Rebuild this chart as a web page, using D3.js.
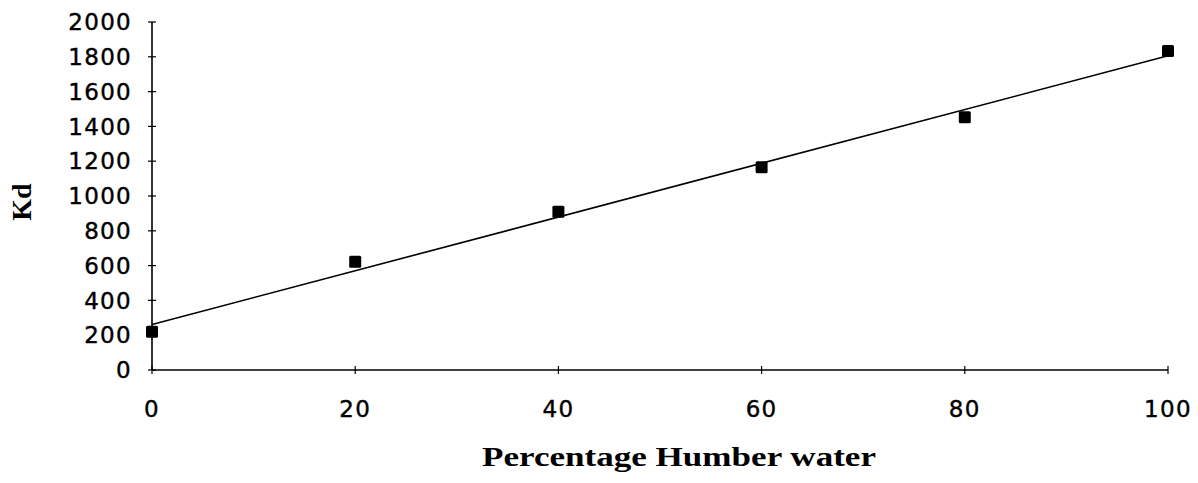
<!DOCTYPE html>
<html>
<head>
<meta charset="utf-8">
<script src="https://cdn.jsdelivr.net/npm/d3@7"></script>
<style>
  html, body { margin: 0; padding: 0; background: #fff; }
  #chart { width: 1198px; height: 483px; }
  .tick-label { font-family: "DejaVu Sans", sans-serif; font-size: 23px; letter-spacing: 1.3px; fill: #000; stroke: #000; stroke-width: 0.4px; }
  .axis-title { font-family: "Liberation Serif", "Times New Roman", serif; font-weight: bold; font-size: 28px; fill: #000; }
</style>
</head>
<body>
<div id="chart"></div>
<script>
// Kd against percentage of Humber water, with a least-squares trendline.
var pctHumber = [0, 20, 40, 60, 80, 100];
var kdValues = [220, 622, 910, 1165, 1452, 1833];
var xTicks = [0, 20, 40, 60, 80, 100];
var yTicks = [0, 200, 400, 600, 800, 1000, 1200, 1400, 1600, 1800, 2000];

(function () {
    var W = 1198, H = 483;
    var margin = { top: 22, right: 30, bottom: 113, left: 152 };
    var innerW = W - margin.left - margin.right;
    var innerH = H - margin.top - margin.bottom;

    var svg = d3.select('#chart').append('svg')
        .attr('width', W).attr('height', H);
    var g = svg.append('g')
        .attr('transform', 'translate(' + margin.left + ',' + margin.top + ')');

    var x = d3.scaleLinear().domain([0, 100]).range([0, innerW]);
    var y = d3.scaleLinear().domain([0, 2000]).range([innerH, 0]);

    // Linear fit (what the spreadsheet trendline shows)
    var mx = d3.mean(pctHumber), my = d3.mean(kdValues);
    var sxy = d3.sum(pctHumber, function (v, i) { return (v - mx) * (kdValues[i] - my); });
    var sxx = d3.sum(pctHumber, function (v) { return (v - mx) * (v - mx); });
    var slope = sxy / sxx, icpt = my - slope * mx;

    // Axes: plain lines with small cross ticks
    g.append('line')
        .attr('x1', 0).attr('x2', 0).attr('y1', y(0)).attr('y2', y(2000))
        .attr('stroke', '#000').attr('stroke-width', 1.6);
    g.append('line')
        .attr('x1', 0).attr('x2', x(100)).attr('y1', y(0)).attr('y2', y(0))
        .attr('stroke', '#000').attr('stroke-width', 1.6);

    yTicks.forEach(function (t) {
        g.append('line')
            .attr('x1', -4).attr('x2', 4).attr('y1', y(t)).attr('y2', y(t))
            .attr('stroke', '#000').attr('stroke-width', 1.2);
        g.append('text')
            .attr('class', 'tick-label')
            .attr('x', -20).attr('y', y(t)).attr('dy', '0.36em')
            .attr('text-anchor', 'end')
            .text(t);
    });
    xTicks.forEach(function (t) {
        g.append('line')
            .attr('x1', x(t)).attr('x2', x(t)).attr('y1', y(0) - 4).attr('y2', y(0) + 4)
            .attr('stroke', '#000').attr('stroke-width', 1.2);
        g.append('text')
            .attr('class', 'tick-label')
            .attr('x', x(t)).attr('y', y(0) + 47)
            .attr('text-anchor', 'middle')
            .text(t);
    });

    // Trendline
    g.append('line')
        .attr('x1', x(0)).attr('y1', y(icpt))
        .attr('x2', x(100)).attr('y2', y(icpt + slope * 100))
        .attr('stroke', '#000').attr('stroke-width', 1.6);

    // Square markers
    var ms = 12;
    g.selectAll('rect.pt')
        .data(pctHumber)
        .enter().append('rect')
        .attr('class', 'pt')
        .attr('x', function (d) { return x(d) - ms / 2; })
        .attr('y', function (d, i) { return y(kdValues[i]) - ms / 2; })
        .attr('width', ms).attr('height', ms)
        .attr('rx', 1.5)
        .attr('fill', '#000');

    // Axis titles
    svg.append('text')
        .attr('class', 'axis-title')
        .attr('x', 482).attr('y', 466)
        .attr('textLength', 394).attr('lengthAdjust', 'spacingAndGlyphs')
        .text('Percentage Humber water');
    svg.append('text')
        .attr('class', 'axis-title')
        .attr('transform', 'translate(31,202) rotate(-90)')
        .attr('text-anchor', 'middle')
        .text('Kd');
})();
</script>
</body>
</html>
